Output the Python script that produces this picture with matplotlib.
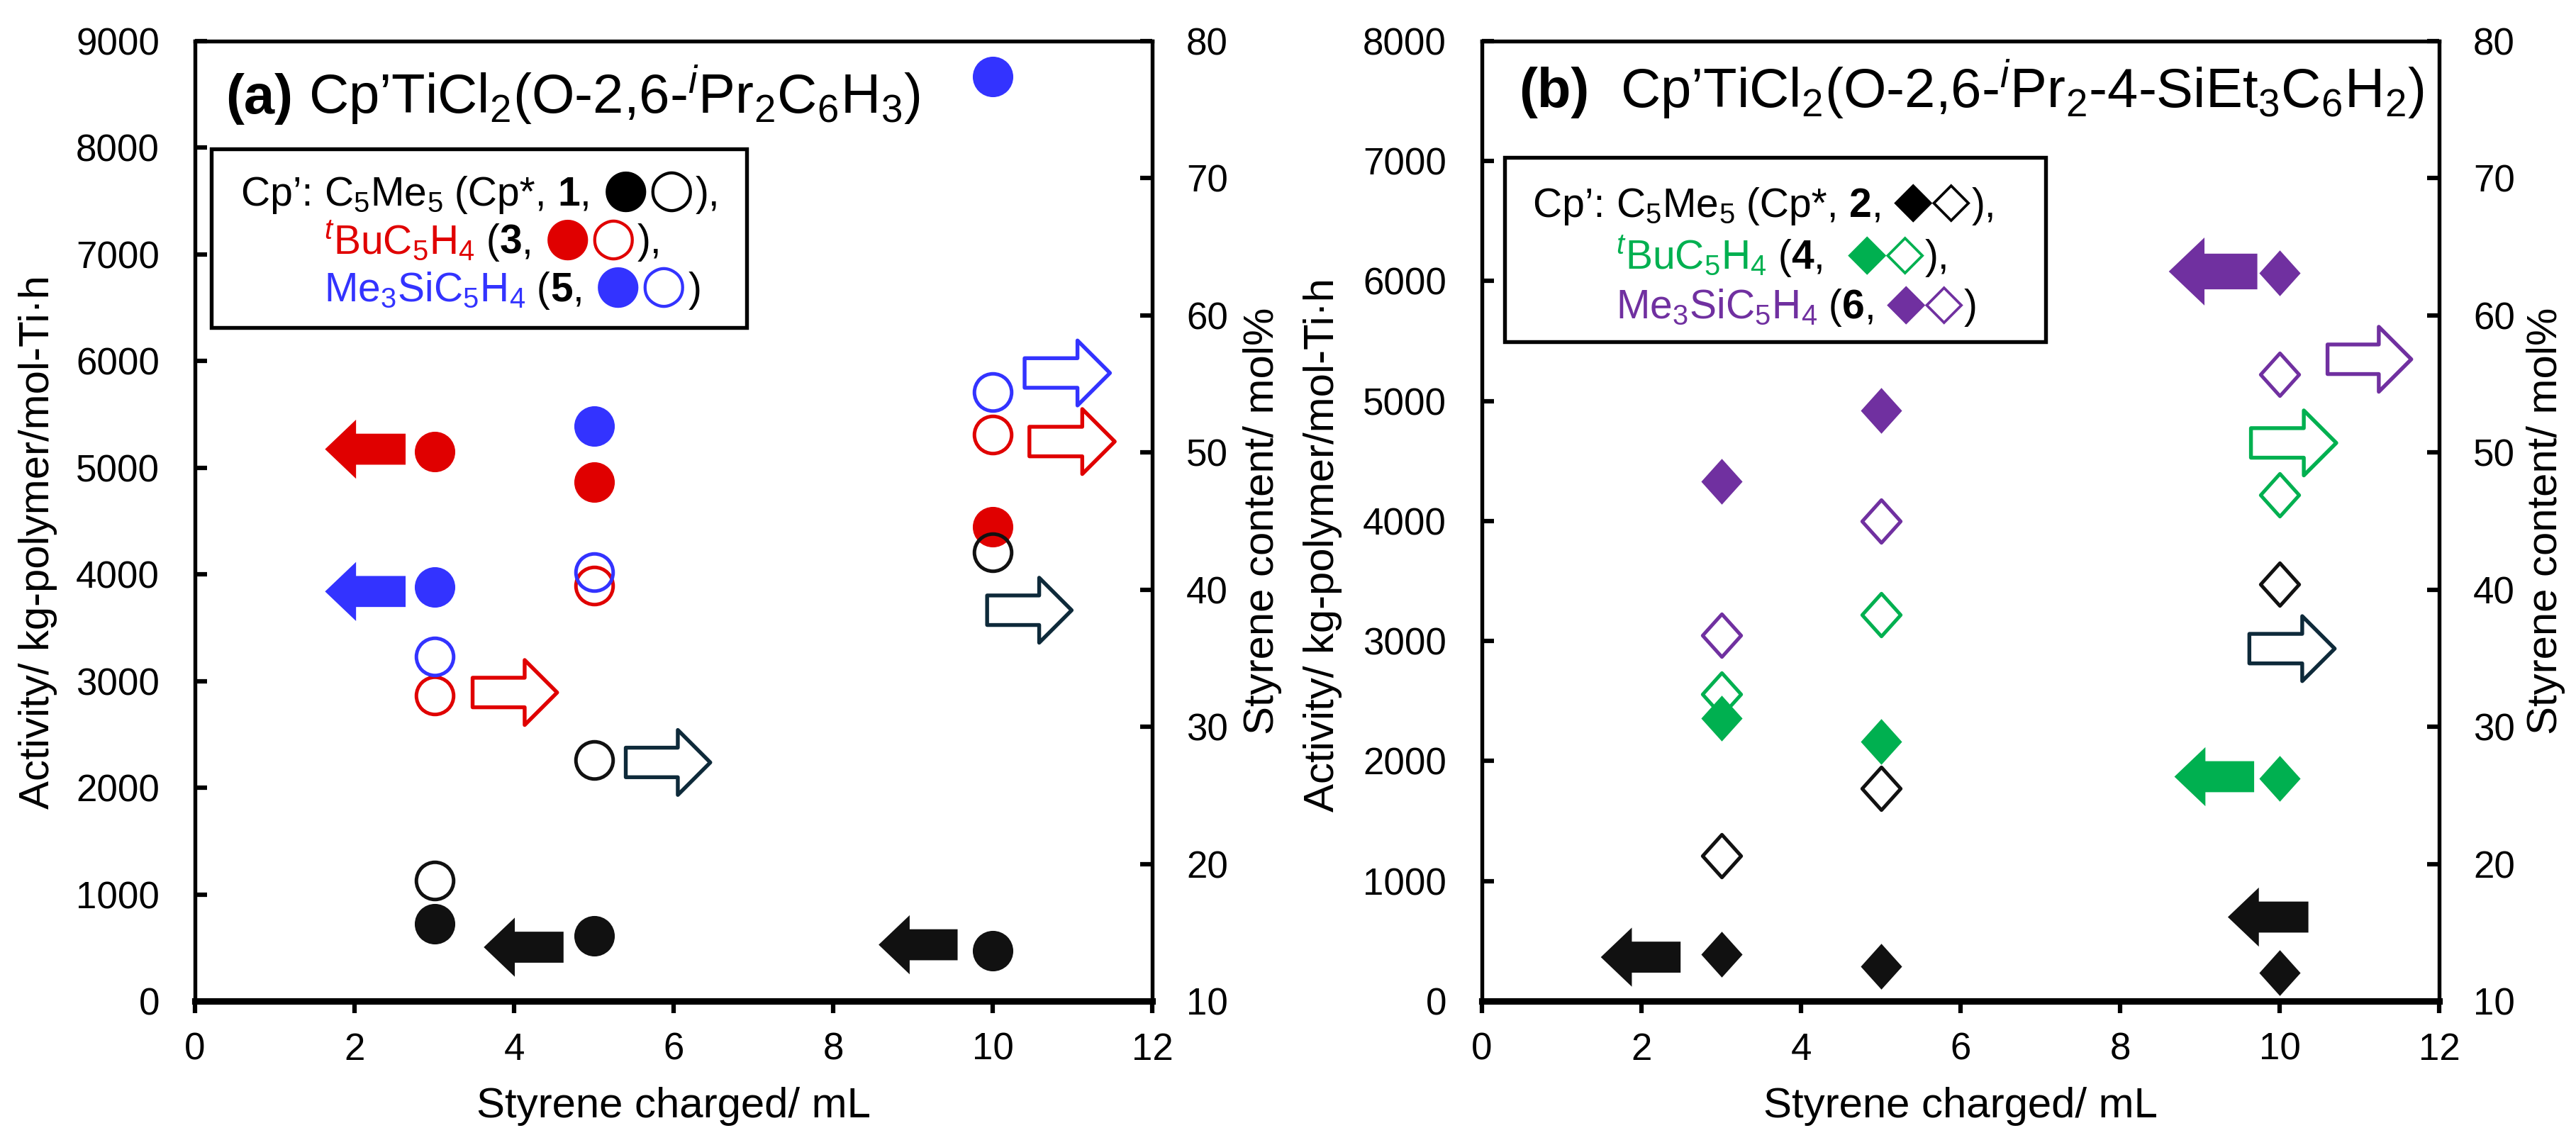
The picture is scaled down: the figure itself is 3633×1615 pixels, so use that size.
import matplotlib
matplotlib.use("Agg")
import matplotlib.pyplot as plt
from matplotlib.patches import FancyArrowPatch, Rectangle
from matplotlib.path import Path

plt.rcParams['font.family'] = ['Liberation Sans', 'DejaVu Sans']
plt.rcParams['mathtext.fontset'] = 'custom'
plt.rcParams['mathtext.rm'] = 'Liberation Sans'
plt.rcParams['mathtext.it'] = 'Liberation Sans:italic'
plt.rcParams['mathtext.bf'] = 'Liberation Sans:bold'

# ---- data ----
styrene_ml = [3, 5, 10]

# panel (a): activity (filled) and styrene content (open)
act_1 = [725, 609, 470]
sty_1 = [18.8, 27.6, 42.7]
act_3 = [5151, 4867, 4449]
sty_3 = [32.3, 40.3, 51.3]
act_5 = [3880, 5389, 8666]
sty_5 = [35.1, 41.3, 54.4]

# panel (b)
act_2 = [392, 289, 237]
sty_2 = [20.6, 25.5, 40.4]
act_4 = [2360, 2164, 1855]
sty_4 = [32.4, 38.2, 46.9]
act_6 = [4328, 4920, 6069]
sty_6 = [36.7, 45.0, 55.7]

# guide arrows: (from x, to x, value)
arrows_a_act = {'1': [(4.62, 3.62, 505), (9.56, 8.57, 528)],
                '3': [(2.64, 1.63, 5174)],
                '5': [(2.64, 1.63, 3840)]}
arrows_a_sty = {'1': [(5.40, 6.46, 27.4), (9.93, 10.99, 38.5)],
                '3': [(3.48, 4.54, 32.5), (10.46, 11.53, 50.8)],
                '5': [(10.40, 11.47, 55.8)]}
arrows_b_act = {'2': [(2.49, 1.49, 366), (10.36, 9.35, 700)],
                '4': [(9.68, 8.68, 1870)],
                '6': [(9.72, 8.61, 6080)]}
arrows_b_sty = {'2': [(9.62, 10.69, 35.7)],
                '4': [(9.64, 10.71, 50.7)],
                '6': [(10.60, 11.65, 56.8)]}

x_ticks = [0, 2, 4, 6, 8, 10, 12]
right_ticks = [10, 20, 30, 40, 50, 60, 70, 80]

# ---- styles ----
colors = {'1': '#111111', '3': '#E00000', '5': '#3333FF',
          '2': '#111111', '4': '#00B050', '6': '#7030A0'}
open_arrow_colors = {'1': '#0E2A3A', '3': '#E00000', '5': '#3333FF',
                     '2': '#0E2A3A', '4': '#00B050', '6': '#7030A0'}

diamond = Path([(0, 1), (0.9, 0), (0, -1), (-0.9, 0), (0, 1)],
               [Path.MOVETO, Path.LINETO, Path.LINETO, Path.LINETO, Path.CLOSEPOLY])

fig = plt.figure(figsize=(3633 / 300, 1615 / 300), dpi=300)
axA = fig.add_axes([0.0757, 0.1257, 0.3716, 0.8384])
axB = fig.add_axes([0.5753, 0.1257, 0.3716, 0.8384])


def setup(ax, ymax, ylabel_x, ylabel_y, rlabel_x):
    ax.set_xlim(0, 12)
    ax.set_ylim(0, ymax)
    ax.set_xticks(x_ticks)
    ax.set_yticks(range(0, ymax + 1, 1000))
    ax.tick_params(axis='y', direction='in', length=4, width=1.5, labelsize=12.7, pad=12)
    ax.tick_params(axis='x', direction='out', length=4, width=1.5, labelsize=12.7, pad=6.5)
    for s in ['top', 'left', 'right']:
        ax.spines[s].set_linewidth(1.3)
    ax.spines['bottom'].set_linewidth(2.2)
    ax.set_xlabel('Styrene charged/ mL', fontsize=14.4)
    ax.xaxis.set_label_coords(0.5, -0.089)
    ax.set_ylabel('Activity/ kg-polymer/mol-Ti·h', fontsize=14.4)
    ax.yaxis.set_label_coords(ylabel_x, ylabel_y)
    ax2 = ax.twinx()
    ax2.set_ylim(10, 80)
    ax2.set_yticks(right_ticks)
    ax2.tick_params(axis='y', direction='in', length=4, width=1.5, labelsize=12.7, pad=11.5)
    for s in ['top', 'left', 'right', 'bottom']:
        ax2.spines[s].set_visible(False)
    ax2.set_ylabel('Styrene content/ mol%', fontsize=14.4)
    ax2.yaxis.set_label_coords(rlabel_x, 0.5)
    return ax2


axA2 = setup(axA, 9000, -0.144, 0.478, 1.095)
axB2 = setup(axB, 8000, -0.146, 0.475, 1.091)


def arrow(ax, x0, x1, y, color, filled, scale=1.0):
    if filled:
        style = 'simple,head_length=1.05,head_width=2.0,tail_width=1.05'
        p = FancyArrowPatch((x0, y), (x1, y), arrowstyle=style, mutation_scale=10 * scale,
                            fc=color, ec=color, lw=0, shrinkA=0, shrinkB=0, zorder=3)
    else:
        style = 'simple,head_length=1.1,head_width=2.2,tail_width=1.0'
        p = FancyArrowPatch((x0, y), (x1, y), arrowstyle=style, mutation_scale=10 * scale,
                            fc='white', ec=color, lw=1.3, shrinkA=0, shrinkB=0, zorder=3)
    ax.add_patch(p)


# panel (a) markers
for key, act, sty in [('1', act_1, sty_1), ('3', act_3, sty_3), ('5', act_5, sty_5)]:
    axA.plot(styrene_ml, act, 'o', color=colors[key], ms=13.7, mew=0, zorder=4)
    axA2.plot(styrene_ml, sty, 'o', mfc='none', mec=colors[key], ms=12.6, mew=1.2, zorder=4)
    for x0, x1, y in arrows_a_act[key]:
        arrow(axA, x0, x1, y, colors[key], True)
    for x0, x1, y in arrows_a_sty[key]:
        arrow(axA2, x0, x1, y, open_arrow_colors[key], False)

# panel (b) markers
for key, act, sty in [('2', act_2, sty_2), ('4', act_4, sty_4), ('6', act_6, sty_6)]:
    axB.plot(styrene_ml, act, marker=diamond, ls='none', color=colors[key], ms=15.5, mew=0, zorder=4)
    axB2.plot(styrene_ml, sty, marker=diamond, ls='none', mfc='none', mec=colors[key],
              ms=14.5, mew=1.2, zorder=4)
    for x0, x1, y in arrows_b_act[key]:
        arrow(axB, x0, x1, y, colors[key], True, 1.15 if key == '6' else 1.0)
    for x0, x1, y in arrows_b_sty[key]:
        arrow(axB2, x0, x1, y, open_arrow_colors[key], False)

renderer = fig.canvas.get_renderer()


def put_segments(ax, x, y, segs, size):
    # segs: (text, color, weight[, size, family])
    inv = ax.transAxes.inverted()
    ends = []
    for seg in segs:
        s, color, weight = seg[:3]
        fs = seg[3] if len(seg) > 3 else size
        kw = {'family': seg[4]} if len(seg) > 4 else {}
        t = ax.text(x, y, s, transform=ax.transAxes, color=color, fontweight=weight,
                    fontsize=fs, va='baseline', ha='left', zorder=10, **kw)
        bb = t.get_window_extent(renderer)
        x = inv.transform((bb.x1, bb.y0))[0]
        ends.append(x)
    return ends


# titles
put_segments(axA2, 0.032, 0.925, [('(a)', 'black', 'bold'), (' ', 'black', 'normal'),
                                  ('Cp’TiCl$_2$(O-2,6-$^i$Pr$_2$C$_6$H$_3$)', 'black', 'normal')], 18.7)
put_segments(axB2, 0.0385, 0.931, [('(b)', 'black', 'bold'), ('  ', 'black', 'normal'),
                                   ('Cp’TiCl$_2$(O-2,6-$^i$Pr$_2$-4-SiEt$_3$C$_6$H$_2$)', 'black', 'normal')], 18.7)

# legend boxes
axA2.add_patch(Rectangle((0.017, 0.7016), 0.559, 0.1861, transform=axA2.transAxes,
                         fc='white', ec='black', lw=1.3, zorder=9))
axB2.add_patch(Rectangle((0.0237, 0.6869), 0.5653, 0.1921, transform=axB2.transAxes,
                         fc='white', ec='black', lw=1.3, zorder=9))

k = 'black'
gl = 18
gd = 17
gf = 'DejaVu Sans'
ends = put_segments(axA2, 0.048, 0.829, [('Cp’: ', k, 'normal'), ('C$_5$Me$_5$', k, 'normal'),
                                         (' (Cp*, ', k, 'normal'),
                                         ('1', k, 'bold'), (', ', k, 'normal'),
                                         ('●○', k, 'normal', gl, gf), ('),', k, 'normal')], 13.7)
ind = ends[0]
put_segments(axA2, ind, 0.779, [('$^t$BuC$_5$H$_4$', colors['3'], 'normal'), (' (', k, 'normal'),
                                ('3', k, 'bold'), (', ', k, 'normal'),
                                ('●○', colors['3'], 'normal', gl, gf), ('),', k, 'normal')], 13.7)
put_segments(axA2, ind, 0.729, [('Me$_3$SiC$_5$H$_4$', colors['5'], 'normal'), (' (', k, 'normal'),
                                ('5', k, 'bold'), (', ', k, 'normal'),
                                ('●○', colors['5'], 'normal', gl, gf), (')', k, 'normal')], 13.7)

ends = put_segments(axB2, 0.053, 0.817, [('Cp’: ', k, 'normal'), ('C$_5$Me$_5$', k, 'normal'),
                                         (' (Cp*, ', k, 'normal'),
                                         ('2', k, 'bold'), (', ', k, 'normal'),
                                         ('◆◇', k, 'normal', gd, gf), ('),', k, 'normal')], 13.7)
ind = ends[0]
put_segments(axB2, ind, 0.763, [('$^t$BuC$_5$H$_4$', colors['4'], 'normal'), (' (', k, 'normal'),
                                ('4', k, 'bold'), (',  ', k, 'normal'),
                                ('◆◇', colors['4'], 'normal', gd, gf), ('),', k, 'normal')], 13.7)
put_segments(axB2, ind, 0.711, [('Me$_3$SiC$_5$H$_4$', colors['6'], 'normal'), (' (', k, 'normal'),
                                ('6', k, 'bold'), (', ', k, 'normal'),
                                ('◆◇', colors['6'], 'normal', gd, gf), (')', k, 'normal')], 13.7)

fig.savefig('out.png', dpi=300)
